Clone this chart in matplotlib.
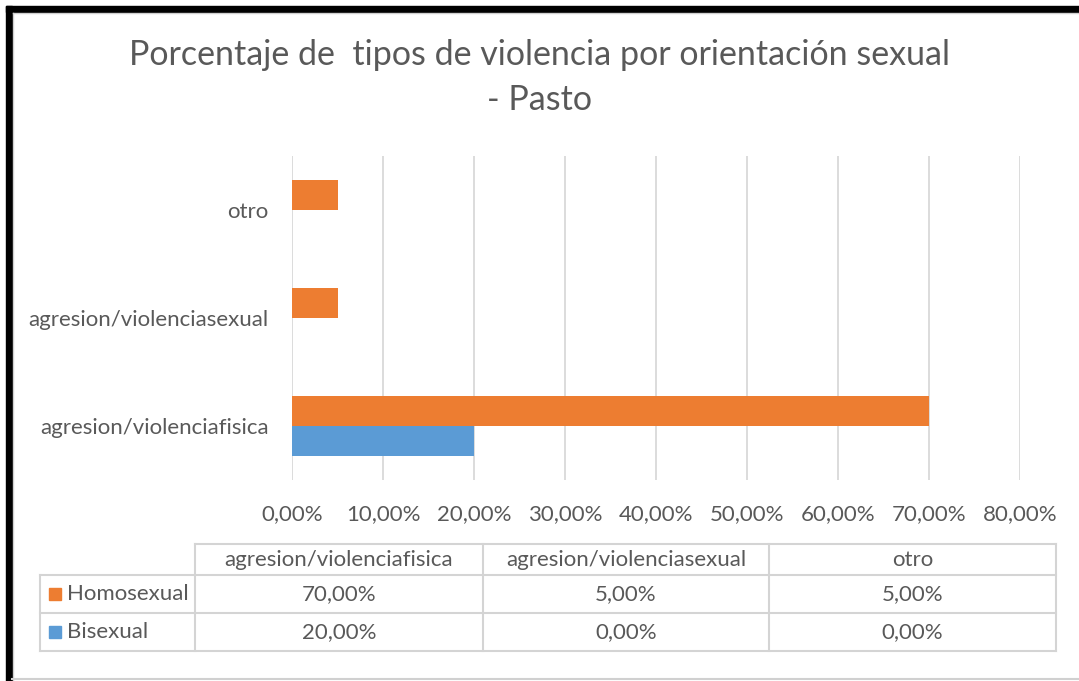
import numpy as np
import matplotlib.pyplot as plt
from matplotlib.lines import Line2D
from matplotlib.patches import Rectangle

categories = ["agresion/violenciafisica", "agresion/violenciasexual", "otro"]
series_names = ["Homosexual", "Bisexual"]
homosexual = [70.0, 5.0, 5.0]
bisexual = [20.0, 0.0, 0.0]
xticks = [0, 10, 20, 30, 40, 50, 60, 70, 80]

orange = "#ED7D31"
blue = "#5B9BD5"
gray_txt = "#595959"
grid_c = "#D9D9D9"

plt.rcParams["font.family"] = ["Lato", "DejaVu Sans"]

W, H = 1079, 681
fig = plt.figure(figsize=(W / 100, H / 100), dpi=100)

def fx(px):
    return px / W

def fy(py):
    return 1 - py / H

ax = fig.add_axes([fx(292), fy(480), fx(1020) - fx(292), fy(156) - fy(480)])
y = np.arange(len(categories))
h = 0.28
ax.barh(y + h / 2, homosexual, height=h, color=orange, zorder=3)
ax.barh(y - h / 2, bisexual, height=h, color=blue, zorder=3)
ax.set_xlim(0, 80)
ax.set_ylim(-0.5, len(categories) - 0.5)
ax.set_xticks(xticks)
ax.set_xticklabels([f"{v:.2f}%".replace(".", ",") for v in xticks])
ax.set_yticks(y)
ax.set_yticklabels(categories)
ax.tick_params(length=0, labelsize=16, colors=gray_txt)
ax.tick_params(axis="x", pad=17)
ax.tick_params(axis="y", pad=17)
ax.grid(axis="x", color=grid_c, linewidth=1.3, zorder=0)
for s in ax.spines.values():
    s.set_visible(False)

fig.text(0.5, fy(55), "Porcentaje de  tipos de violencia por orientación sexual",
         ha="center", va="center", fontsize=24.5, color=gray_txt)
fig.text(0.5, fy(100), "- Pasto", ha="center", va="center", fontsize=24.5, color=gray_txt)

# data table below the chart
col_x = [40, 195, 483, 769, 1056]
row_y = [544, 575, 613, 651]
lw = 1.5
lc = "#D4D4D4"
fig.add_artist(Line2D([fx(col_x[1]), fx(col_x[-1])], [fy(row_y[0])] * 2,
                      color=lc, lw=lw, transform=fig.transFigure))
for r in row_y[1:]:
    fig.add_artist(Line2D([fx(col_x[0]), fx(col_x[-1])], [fy(r)] * 2,
                          color=lc, lw=lw, transform=fig.transFigure))
fig.add_artist(Line2D([fx(col_x[0])] * 2, [fy(row_y[1]), fy(row_y[-1])],
                      color=lc, lw=lw, transform=fig.transFigure))
for c in col_x[1:]:
    fig.add_artist(Line2D([fx(c)] * 2, [fy(row_y[0]), fy(row_y[-1])],
                          color=lc, lw=lw, transform=fig.transFigure))

for i, cat in enumerate(categories):
    cx = (col_x[i + 1] + col_x[i + 2]) / 2
    fig.text(fx(cx), fy((row_y[0] + row_y[1]) / 2), cat, ha="center", va="center",
             fontsize=16, color=gray_txt)

rows = [homosexual, bisexual]
colors = [orange, blue]
for j, (name, vals, c) in enumerate(zip(series_names, rows, colors)):
    ym = (row_y[j + 1] + row_y[j + 2]) / 2
    fig.add_artist(Rectangle((fx(49), fy(ym + 6)), fx(12), fy(ym - 6) - fy(ym + 6),
                             color=c, transform=fig.transFigure))
    fig.text(fx(67), fy(ym), name, ha="left", va="center", fontsize=16, color=gray_txt)
    for i, v in enumerate(vals):
        cx = (col_x[i + 1] + col_x[i + 2]) / 2
        fig.text(fx(cx), fy(ym), f"{v:.2f}%".replace(".", ","), ha="center",
                 va="center", fontsize=16, color=gray_txt)

# frame
fig.add_artist(Rectangle((fx(6), 0), fx(6), fy(6), color="black", transform=fig.transFigure))
fig.add_artist(Rectangle((fx(6), fy(12)), 1 - fx(6), fy(6) - fy(12), color="black",
                         transform=fig.transFigure))
fig.add_artist(Line2D([fx(13), 1], [fy(13)] * 2, color="#D0D0D0", lw=1,
                      transform=fig.transFigure))
fig.add_artist(Line2D([fx(13)] * 2, [0, fy(13)], color="#D0D0D0", lw=1,
                      transform=fig.transFigure))
fig.add_artist(Line2D([fx(12), 1], [fy(679)] * 2, color="#D0D0D0", lw=1.5,
                      transform=fig.transFigure))

fig.savefig("out.png", dpi=100)
